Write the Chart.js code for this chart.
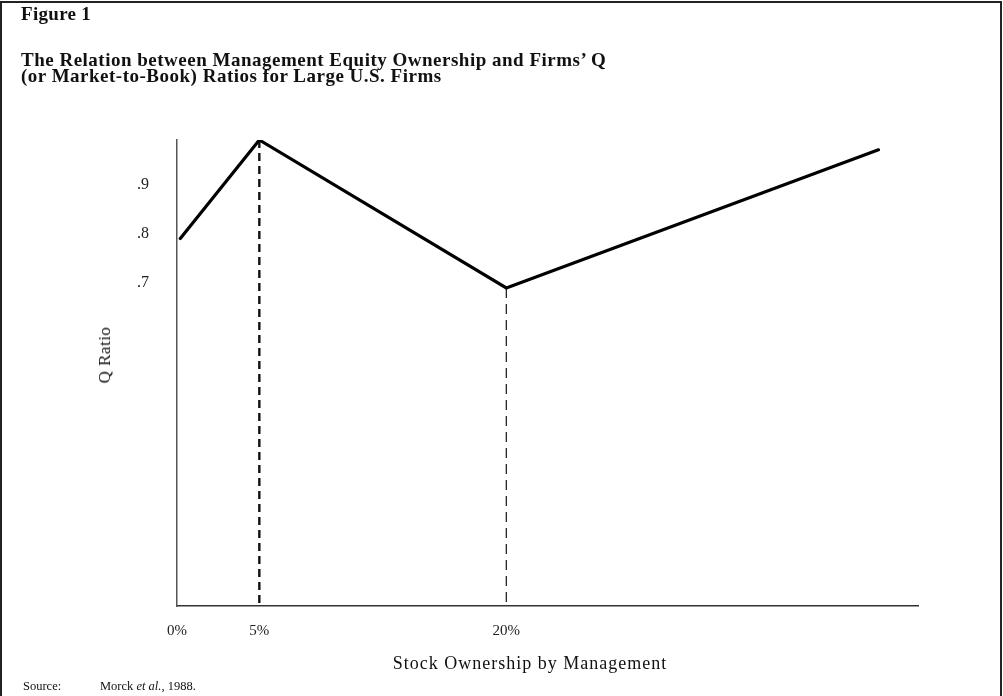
<!DOCTYPE html>
<html>
<head>
<meta charset="utf-8">
<script src="https://cdn.jsdelivr.net/npm/chart.js@4/dist/chart.umd.min.js"></script>
<style>
  html, body { margin: 0; padding: 0; background: #fff; overflow: hidden; }
  #wrap { position: relative; width: 1003px; height: 696px; }
  #frame { position: absolute; left: 0px; top: 1px; width: 1002px; height: 720px; border: 2px solid #222; box-sizing: border-box; }
  canvas { position: absolute; left: 0; top: 0; }
  .t { position: absolute; font-family: "Liberation Serif", "DejaVu Serif", serif; color: #111; white-space: nowrap; }
  #fig { left: 21px; top: 3px; font-size: 19px; font-weight: bold; letter-spacing: 0.3px; }
  #title { left: 21px; top: 52px; font-size: 19px; font-weight: bold; line-height: 16px; letter-spacing: 0.5px; }
  #ytitle { left: 105px; top: 355px; font-size: 17px; transform: translate(-50%, -50%) rotate(-90deg); letter-spacing: 0.5px; }
  #xtitle { left: 530px; top: 663px; font-size: 18px; transform: translate(-50%, -50%); letter-spacing: 1px; }
  #src1 { left: 23px; top: 679px; font-size: 12.5px; }
  #src2 { left: 100px; top: 679px; font-size: 12.5px; }
</style>
</head>
<body>
<div id="wrap">
  <div id="frame"></div>
  <canvas id="c" width="1003" height="696"></canvas>
  <div class="t" id="fig">Figure 1</div>
  <div class="t" id="title">The Relation between Management Equity Ownership and Firms’ Q<br>(or Market-to-Book) Ratios for Large U.S. Firms</div>
  <div class="t" id="ytitle">Q Ratio</div>
  <div class="t" id="xtitle">Stock Ownership by Management</div>
  <div class="t" id="src1">Source:</div>
  <div class="t" id="src2">Morck <i>et al.</i>, 1988.</div>
</div>
<script>
// Data
const ownershipPct = [0.2, 5, 20, 42.6];       // stock ownership by management (%)
const qRatio       = [0.79, 0.99, 0.69, 0.97]; // Q ratio
const xTickValues  = [0, 5, 20];
const xTickLabels  = ['0%', '5%', '20%'];
const yTickValues  = [0.7, 0.8, 0.9];
const yTickLabels  = ['.7', '.8', '.9'];
const yMin = 0.045, yMax = 0.99;
const xMin = 0, xMax = 45;

const serif = '"Liberation Serif", "DejaVu Serif", serif';

const mainLine = ownershipPct.map((x, i) => ({ x: x, y: qRatio[i] }));
const drop5  = [{ x: ownershipPct[1], y: qRatio[1] }, { x: ownershipPct[1], y: yMin }];
const drop20 = [{ x: ownershipPct[2], y: qRatio[2] }, { x: ownershipPct[2], y: yMin }];

new Chart(document.getElementById('c'), {
  type: 'line',
  data: {
    datasets: [
      { data: mainLine, borderColor: '#000', borderWidth: 3.2, pointRadius: 0, tension: 0, borderJoinStyle: 'miter', borderCapStyle: 'round' },
      { data: drop5, borderColor: '#111', borderWidth: 2.4, borderDash: [8, 5], pointRadius: 0 },
      { data: drop20, borderColor: '#222', borderWidth: 1.3, borderDash: [10, 6], pointRadius: 0 }
    ]
  },
  options: {
    responsive: false,
    animation: false,
    events: [],
    layout: { padding: { left: 92, top: 140, right: 85, bottom: 0 } },
    plugins: { legend: { display: false }, tooltip: { enabled: false } },
    scales: {
      x: {
        type: 'linear', min: xMin, max: xMax,
        afterFit: s => { s.height = 90; },
        afterBuildTicks: s => { s.ticks = xTickValues.map(v => ({ value: v })); },
        grid: { display: false, drawTicks: false },
        border: { display: true, color: '#333', width: 1.5 },
        ticks: {
          padding: 16, color: '#222', maxRotation: 0, autoSkip: false,
          font: { family: serif, size: 15 },
          callback: (v) => { const i = xTickValues.indexOf(v); return i >= 0 ? xTickLabels[i] : ''; }
        },
        title: { display: false }
      },
      y: {
        type: 'linear', min: yMin, max: yMax,
        afterFit: s => { s.width = 85; },
        afterBuildTicks: s => { s.ticks = yTickValues.map(v => ({ value: v })); },
        grid: { display: false, drawTicks: false },
        border: { display: true, color: '#555', width: 1.5 },
        ticks: {
          padding: 28, color: '#222', autoSkip: false,
          font: { family: serif, size: 16 },
          callback: (v) => { const i = yTickValues.findIndex(t => Math.abs(t - v) < 1e-9); return i >= 0 ? yTickLabels[i] : ''; }
        },
        title: { display: false }
      }
    }
  }
});
</script>
</body>
</html>
